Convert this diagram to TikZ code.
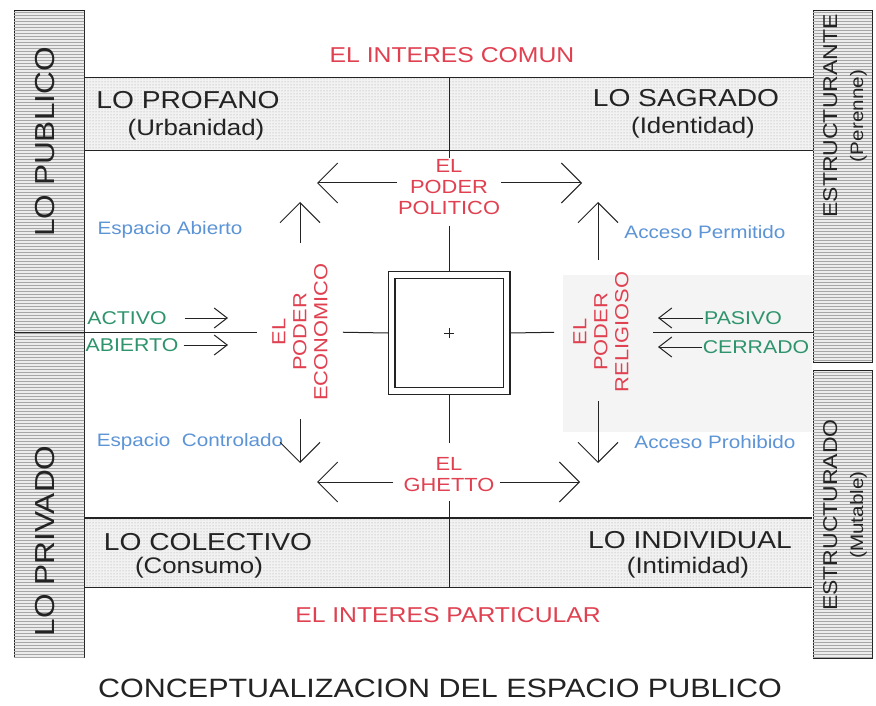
\documentclass[tikz,border=0pt]{standalone}
\usepackage{fontspec}
\setmainfont{Liberation Sans}[FakeStretch=1.15]
\usetikzlibrary{positioning,arrows.meta,patterns}
\definecolor{rojoc}{RGB}{224,64,80}
\definecolor{verdec}{RGB}{46,148,108}
\definecolor{azulc}{RGB}{92,148,214}
\definecolor{tinta}{RGB}{35,35,35}
\tikzset{
  rotulo/.style   = {inner sep=1pt, align=center, text=tinta},
  grande/.style   = {rotulo, font=\fontsize{24.5}{26}\selectfont},
  chico/.style    = {rotulo, font=\fontsize{22.5}{24}\selectfont},
  poder/.style    = {rotulo, text=rojoc, font=\fontsize{19}{21}\selectfont},
  interes/.style  = {rotulo, text=rojoc, font=\fontsize{21.5}{24}\selectfont},
  modo/.style     = {rotulo, text=verdec, font=\fontsize{18.5}{20}\selectfont},
  espacio/.style  = {rotulo, text=azulc, font=\fontsize{18}{20}\selectfont},
  lateral/.style  = {rotulo, rotate=90, font=\fontsize{27.5}{29}\selectfont},
  estruct/.style  = {rotulo, rotate=90, font=\fontsize{20}{26}\selectfont},
  plazabox/.style = {draw=tinta, line width=1.1pt, double, double distance=5.8pt,
                     outer sep=3.45pt, minimum width=115pt, minimum height=116.5pt},
  linea/.style    = {draw=tinta, line width=1pt},
  flecha/.style   = {linea, -{Straight Barb[length=20pt,width=40pt]}},
  flechita/.style = {linea, -{Straight Barb[length=13pt,width=20pt]}},
  banda/.style    = {fill=gray!10, postaction={pattern=dots, pattern color=gray!75}},
  columna/.style  = {draw=tinta, line width=0.8pt, fill=gray!15,
                     postaction={pattern=horizontal lines, pattern color=gray!70}}
}

\begin{document}
\begin{tikzpicture}[x=1pt,y=-1pt]
		\useasboundingbox[fill=white] (0,0) rectangle (876,706);
		\fill[banda] (85,78) rectangle (813,151);
		\fill[banda] (84,518) rectangle (812,587);
		\path[columna] (14,10) rectangle (84,657);
		\path[columna] (813,10) rectangle (872,362);
		\path[columna] (813,370) rectangle (872,658);
		\fill[gray!9] (563,275) rectangle (812,432);
		\draw[linea] (85,78) -- (813,78);
		\draw[linea, line width=0.8pt] (85,150) -- (813,150);
		\draw[linea, line width=1.2pt] (84,518) -- (812,518);
		\draw[linea, line width=0.8pt] (84,587) -- (812,587);

		\node[interes] (comun) at (452,55) {EL INTERES COMUN};
		\node[grande] (profano) at (188,100) {LO PROFANO};
		\node[chico] (urbanidad) at (196,130) {(Urbanidad)};
		\node[grande] (sagrado) at (686,98) {LO SAGRADO};
		\node[chico] (identidad) at (693,128) {(Identidad)};
		\node[grande] (colectivo) at (208,542) {LO COLECTIVO};
		\node[chico] (consumo) at (199,568) {(Consumo)};
		\node[grande] (individual) at (690,540) {LO INDIVIDUAL};
		\node[chico] (intimidad) at (688,568) {(Intimidad)};
		\node[interes] (particular) at (448,615) {EL INTERES PARTICULAR};
		\node[rotulo, font=\fontsize{26.5}{28}\selectfont] (titulo) at (440,688) {CONCEPTUALIZACION DEL ESPACIO PUBLICO};

		\node[lateral] (publico) at (45,142) {LO PUBLICO};
		\node[lateral] (privado) at (45,541) {LO PRIVADO};
		\node[estruct] (estructurante) at (845,116) {ESTRUCTURANTE\\{\fontsize{18}{20}\selectfont(Perenne)}};
		\node[estruct] (estructurado) at (845,515) {ESTRUCTURADO\\{\fontsize{18}{20}\selectfont(Mutable)}};

		\node[espacio] (abiertoE) at (170,230) {Espacio Abierto};
		\node[espacio] (controlado) at (190,442) {Espacio\ \ Controlado};
		\node[espacio] (permitido) at (705,232) {Acceso Permitido};
		\node[espacio] (prohibido) at (715,442) {Acceso Prohibido};

		\node[plazabox] (plaza) at (449,333) {};
		\node[poder] (politico) at (449,187) {EL\\PODER\\POLITICO};
		\node[poder] (ghetto) at (449,475) {EL\\GHETTO};
		\node[poder, rotate=90] (economico) at (300,332) {EL\\PODER\\ECONOMICO};
		\node[poder, rotate=90] (religioso) at (601,332) {EL\\PODER\\RELIGIOSO};

		\node[modo] (activo) at (127,318) {ACTIVO};
		\node[modo] (abierto) at (132,345) {ABIERTO};
		\node[modo] (pasivo) at (743,318) {PASIVO};
		\node[modo] (cerrado) at (756,347) {CERRADO};

		\coordinate (norte) at (449,78);
		\coordinate (sur) at (449,587);
		\coordinate (oeste) at (15,332);
		\coordinate (este) at (813,332);
		\coordinate (politicoI) at (317,183);
		\coordinate (politicoD) at (582,183);
		\coordinate (ghettoI) at (317,482);
		\coordinate (ghettoD) at (580,482);
		\coordinate (economicoN) at (300,202);
		\coordinate (economicoS) at (300,463);
		\coordinate (religiosoN) at (598,202);
		\coordinate (religiosoS) at (598,463);
		\coordinate (activoT) at (228,318);
		\coordinate (abiertoT) at (228,345);
		\coordinate (pasivoT) at (658,318);
		\coordinate (cerradoT) at (658,347);

		\draw[linea] (norte) -- (politico.north);
		\draw[linea, shorten <=10pt] (politico.south) -- (plaza.north);
		\draw[linea] (plaza.south) -- ([yshift=14pt]ghetto.north);
		\draw[linea, shorten <=8pt] (ghetto.south) -- (sur);
		\draw[linea, shorten >=14pt] (oeste) -- (economico.north);
		\draw[linea, shorten <=14pt] (economico.south) -- (plaza.west);
		\draw[linea, shorten >=18pt] (plaza.east) -- (religioso.north);
		\draw[linea, shorten <=23pt] (religioso.south) -- (este);

		\draw[flecha] ([yshift=4pt]politico.west) -- (politicoI);
		\draw[flecha] ([yshift=4pt]politico.east) -- (politicoD);
		\draw[flecha] ([xshift=-9pt,yshift=-7pt]ghetto.west) -- (ghettoI);
		\draw[flecha] ([xshift=4pt,yshift=-7pt]ghetto.east) -- (ghettoD);
		\draw[flecha, shorten <=19pt] (economico.east) -- (economicoN);
		\draw[flecha, shorten <=17pt] (economico.west) -- (economicoS);
		\draw[flecha, shorten <=11pt] (religioso.east -| religiosoN) -- (religiosoN);
		\draw[flecha, shorten <=8pt] (religioso.west -| religiosoS) -- (religiosoS);

		\draw[flechita, shorten <=17pt] (activo.east) -- (activoT);
		\draw[flechita, shorten <=4pt] (abierto.east) -- (abiertoT);
		\draw[flechita] (pasivo.west) -- (pasivoT);
		\draw[flechita] (cerrado.west) -- (cerradoT);

		\draw[linea, line width=0.6pt] ([xshift=-5pt]plaza.center) -- ([xshift=5pt]plaza.center);
		\draw[linea, line width=0.6pt] ([yshift=-5pt]plaza.center) -- ([yshift=5pt]plaza.center);
	\end{tikzpicture}
\end{document}
